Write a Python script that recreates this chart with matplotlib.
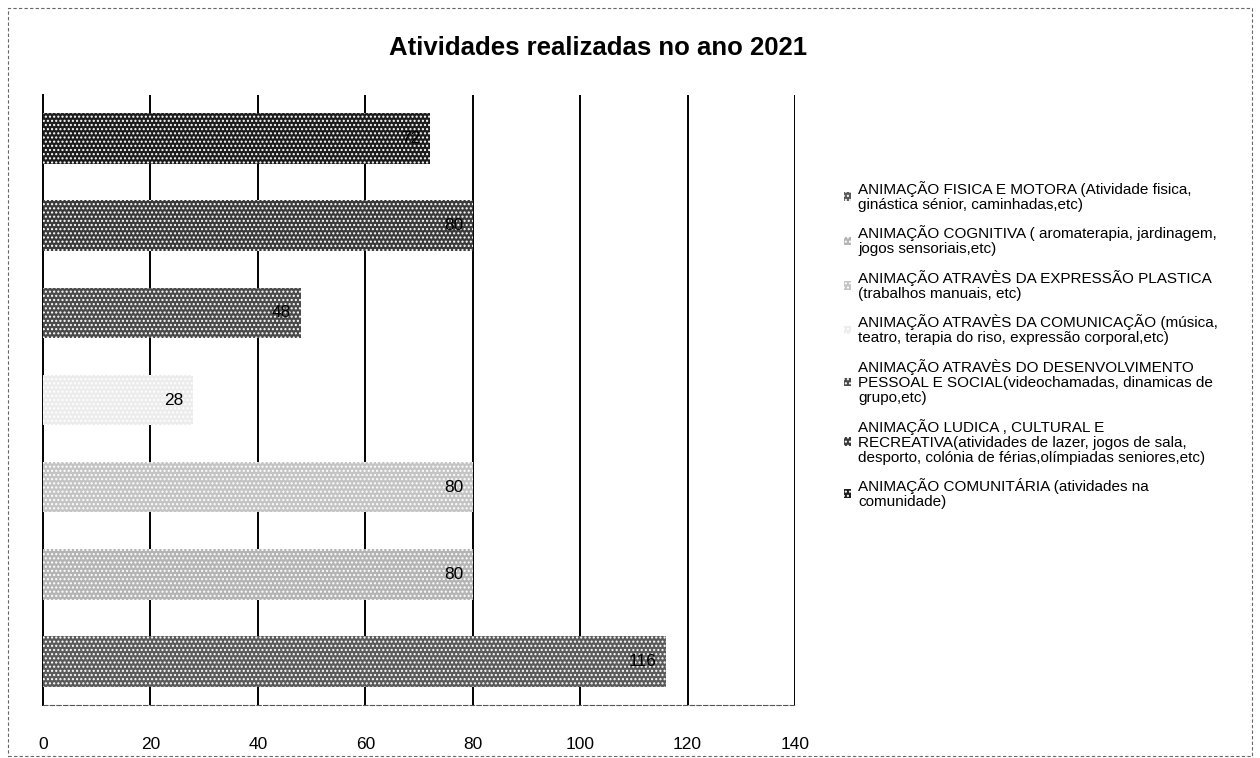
import matplotlib.pyplot as plt
from matplotlib.patches import Patch, Rectangle

plt.rcParams['font.family'] = ['Liberation Sans', 'DejaVu Sans']

# series in Excel order (first series is drawn at the bottom)
categorias = [
    'ANIMAÇÃO FISICA E MOTORA (Atividade fisica,\nginástica sénior, caminhadas,etc)',
    'ANIMAÇÃO COGNITIVA ( aromaterapia, jardinagem,\njogos sensoriais,etc)',
    'ANIMAÇÃO ATRAVÈS DA EXPRESSÃO PLASTICA\n(trabalhos manuais, etc)',
    'ANIMAÇÃO ATRAVÈS DA COMUNICAÇÃO (música,\nteatro, terapia do riso, expressão corporal,etc)',
    'ANIMAÇÃO ATRAVÈS DO DESENVOLVIMENTO\nPESSOAL E SOCIAL(videochamadas, dinamicas de\ngrupo,etc)',
    'ANIMAÇÃO LUDICA , CULTURAL E\nRECREATIVA(atividades de lazer, jogos de sala,\ndesporto, colónia de férias,olímpiadas seniores,etc)',
    'ANIMAÇÃO COMUNITÁRIA (atividades na\ncomunidade)',
]
valores = [116, 80, 80, 28, 48, 80, 72]
cores = ['#5a5a5a', '#b4b4b4', '#c4c4c4', '#ececec', '#4a4a4a', '#3a3a3a', '#1c1c1c']
xticks = [0, 20, 40, 60, 80, 100, 120, 140]

fig = plt.figure(figsize=(12.6, 7.58), dpi=100)
ax = fig.add_axes([43 / 1260, 53 / 758, 752 / 1260, 610 / 758])

for i, (v, c) in enumerate(zip(valores, cores)):
    # y = 6 at the bottom, so the first series sits at the bottom
    ax.barh(6 - i, v, height=0.58, color=c, edgecolor='white', hatch='....',
            linewidth=0, zorder=3)
    ax.text(v - 1.8, 6 - i, str(v), ha='right', va='center', fontsize=12.5,
            color='black', zorder=4)

ax.set_xlim(0, 140)
ax.set_ylim(6.5, -0.5)
ax.set_xticks(xticks)
ax.set_xticklabels([str(t) for t in xticks], fontsize=12.5)
ax.tick_params(axis='x', length=0, pad=23)
ax.set_yticks([])
for t in xticks[1:]:
    ax.axvline(t, color='black', linewidth=1.4, zorder=1)
ax.spines['top'].set_visible(False)
ax.spines['right'].set_visible(False)
ax.spines['left'].set_linewidth(1.4)
ax.spines['bottom'].set_linestyle((0, (4, 2)))
ax.spines['bottom'].set_color('#555555')
ax.spines['bottom'].set_linewidth(0.8)

fig.text(598 / 1260, 1 - 48 / 758, 'Atividades realizadas no ano 2021',
         ha='center', va='center', fontsize=18.5, fontweight='bold')

handles = [Patch(facecolor=c, edgecolor='white', hatch='....', linewidth=0) for c in cores]
leg = fig.legend(handles, categorias, loc='upper left',
                 bbox_to_anchor=(830 / 1260, 1 - 167 / 758), frameon=False,
                 fontsize=11, handlelength=0.5, handleheight=0.5, handletextpad=0.45,
                 labelspacing=0.88, alignment='left')
for t in leg.get_texts():
    t.set_linespacing(1.1)

# dashed outer border of the chart area
fig.patches.append(Rectangle((8 / 1260, 2 / 758), 1244 / 1260, 748 / 758,
                             transform=fig.transFigure, fill=False,
                             edgecolor='#666666', linestyle=(0, (3, 2)),
                             linewidth=0.8))

fig.savefig('out.png', dpi=100)
